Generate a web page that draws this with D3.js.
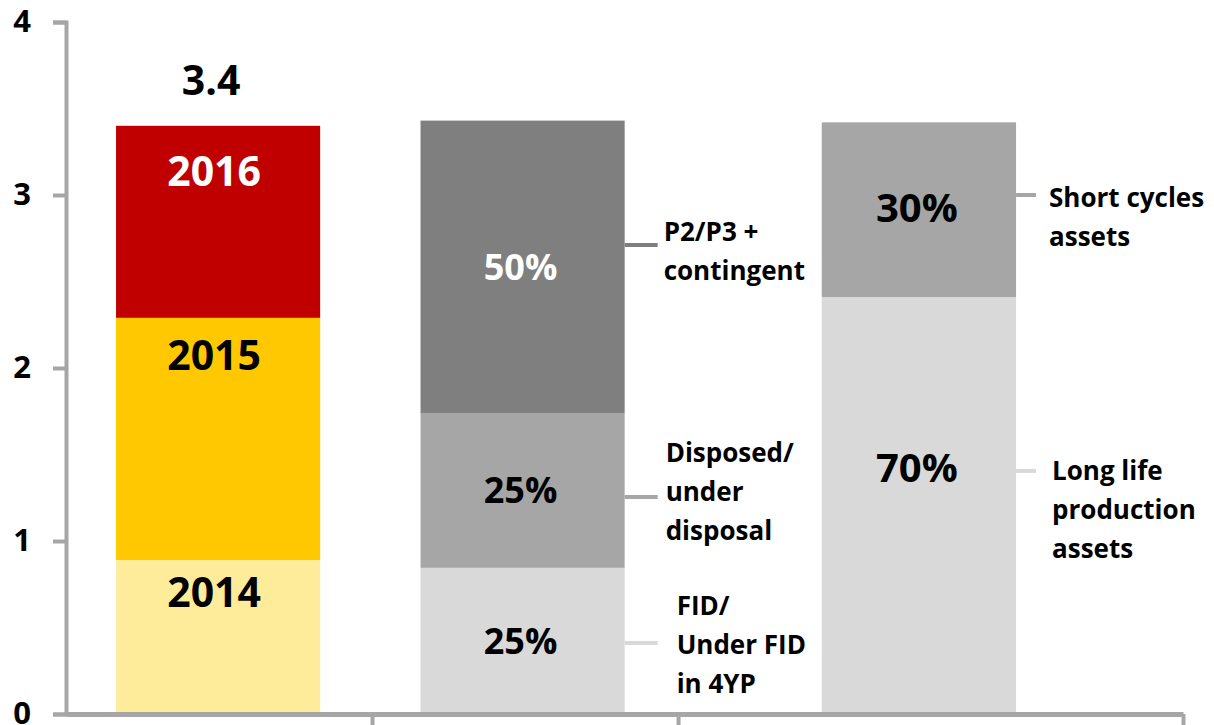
<!DOCTYPE html>
<html><head><meta charset="utf-8">
<script src="https://cdn.jsdelivr.net/npm/d3@7"></script>
<style>
body{margin:0;background:#fff}
text{font-family:"Open Sans",sans-serif;font-weight:700}
.ytick{font-size:31px}
</style>
</head><body><svg id="c" width="1214" height="725"></svg>
<script>
// ---------- data ----------
const yTicks = [0, 1, 2, 3, 4];
const groups = ["Years", "Status", "Assets"];

const yearNames  = ["2014", "2015", "2016"];
const yearValues = [0.89, 1.40, 1.11];
const totalLabel = "3.4";

const statusLabels = ["25%", "25%", "50%"];
const statusValues = [0.845, 0.895, 1.69];
const statusNames  = [["FID/", "Under FID", "in 4YP"], ["Disposed/", "under", "disposal"], ["P2/P3 +", "contingent"]];

const assetLabels = ["70%", "30%"];
const assetValues = [2.41, 1.01];
const assetNames  = [["Long life", "production", "assets"], ["Short cycles", "assets"]];

// ---------- styles / layout ----------
const yearColors   = ["#feec9b", "#ffc800", "#c00000"];
const yearText     = ["#000", "#000", "#fff"];
const statusColors = ["#d9d9d9", "#a6a6a6", "#7f7f7f"];
const statusText   = ["#000", "#000", "#fff"];
const assetColors  = ["#d9d9d9", "#a6a6a6"];
const axisColor = "#a6a6a6";

const svg = d3.select("#c");
const y = d3.scaleLinear().domain([0, 4]).range([714, 22]);
// x in "slot" units; third slot is wider
const x = d3.scaleLinear().domain([0, 3.65]).range([66, 1183]);
const slotCenter = {Years: 0.497, Status: 1.492, Assets: 2.787};
const slotWidth  = {Years: 0.667, Status: 0.667, Assets: 0.635};

function stack(vals) {
  let acc = 0;
  return vals.map(v => { const s = {y0: acc, y1: acc + v, v}; acc += v; return s; });
}
function barX(g) { return x(slotCenter[g] - slotWidth[g] / 2); }
function barW(g) { return x(slotWidth[g]) - x(0); }
function barC(g) { return x(slotCenter[g]); }

// ---------- bars ----------
const yearStack = stack(yearValues);
const statusStack = stack(statusValues);
const assetStack = stack(assetValues);

function drawBar(g, st, colors) {
  svg.append("g").selectAll("rect").data(st).join("rect")
    .attr("x", barX(g)).attr("width", barW(g))
    .attr("y", d => y(d.y1)).attr("height", d => y(d.y0) - y(d.y1))
    .attr("fill", (d, i) => colors[i]);
}
drawBar("Years", yearStack, yearColors);
drawBar("Status", statusStack, statusColors);
drawBar("Assets", assetStack, assetColors);

// inner labels (offset from segment middle, in px)
const yearShift = [-45, -84, -51];
svg.append("g").selectAll("text").data(yearStack).join("text")
  .attr("x", barC("Years") - 4)
  .attr("y", (d, i) => y((d.y0 + d.y1) / 2) + yearShift[i])
  .attr("dy", "0.36em").attr("text-anchor", "middle")
  .attr("font-size", 41).attr("fill", (d, i) => yearText[i])
  .text((d, i) => yearNames[i]);
svg.append("text")
  .attr("x", barC("Years") - 7).attr("y", y(yearStack[2].y1) - 46)
  .attr("dy", "0.36em").attr("text-anchor", "middle")
  .attr("font-size", 41).attr("fill", "#000").text(totalLabel);

svg.append("g").selectAll("text").data(statusStack).join("text")
  .attr("x", barC("Status") - 2)
  .attr("y", d => y((d.y0 + d.y1) / 2))
  .attr("dy", "0.36em").attr("text-anchor", "middle")
  .attr("font-size", 36).attr("fill", (d, i) => statusText[i])
  .text((d, i) => statusLabels[i]);

const assetShift = [-38, -2];
svg.append("g").selectAll("text").data(assetStack).join("text")
  .attr("x", barC("Assets") - 2)
  .attr("y", (d, i) => y((d.y0 + d.y1) / 2) + assetShift[i])
  .attr("dy", "0.36em").attr("text-anchor", "middle")
  .attr("font-size", 40).attr("fill", "#000")
  .text((d, i) => assetLabels[i]);

// ---------- callouts ----------
const statusCallout = [
  {lead: 0.41, text: 0.624, dx: 52},
  {lead: 1.254, text: 1.509, dx: 41},
  {lead: 2.711, text: 2.786, dx: 39}
];
const assetCallout = [
  {lead: 1.405, text: 1.405, dx: 36},
  {lead: 3.0, text: 2.983, dx: 33}
];
function drawCallouts(g, names, cfg, colors, leadLen) {
  const right = barX(g) + barW(g);
  names.forEach((lines, i) => {
    const c = cfg[i];
    svg.append("line")
      .attr("x1", right).attr("x2", right + leadLen)
      .attr("y1", y(c.lead)).attr("y2", y(c.lead))
      .attr("stroke", colors[i]).attr("stroke-width", 4);
    const t = svg.append("text")
      .attr("x", right + c.dx).attr("y", y(c.text))
      .attr("font-size", 26).attr("fill", "#000");
    lines.forEach((l, k) => {
      t.append("tspan").attr("x", right + c.dx)
        .attr("dy", k === 0 ? "0.36em" : "1.5em").text(l);
    });
  });
}
drawCallouts("Status", statusNames, statusCallout, statusColors, 33);
drawCallouts("Assets", assetNames, assetCallout, assetColors, 20);

// ---------- axes ----------
const yAxis = svg.append("g").attr("transform", `translate(${x(0)},0)`)
  .call(d3.axisLeft(y).tickValues(yTicks).tickFormat(d3.format("d")).tickSize(13).tickPadding(22));
yAxis.attr("font-size", null).attr("font-family", null);
yAxis.select(".domain").attr("stroke", axisColor).attr("stroke-width", 4);
yAxis.selectAll(".tick line").attr("stroke", axisColor).attr("stroke-width", 4);
yAxis.selectAll(".tick text").attr("class", "ytick").attr("fill", "#000").attr("dy", "0.3em");

const xAxis = svg.append("g").attr("transform", `translate(0,${y(0)})`)
  .call(d3.axisBottom(x).tickValues([1, 2, 3.65]).tickFormat("").tickSize(11).tickSizeOuter(0));
xAxis.select(".domain").attr("stroke", axisColor).attr("stroke-width", 5);
xAxis.selectAll(".tick line").attr("stroke", axisColor).attr("stroke-width", 4);
</script>
</body></html>
